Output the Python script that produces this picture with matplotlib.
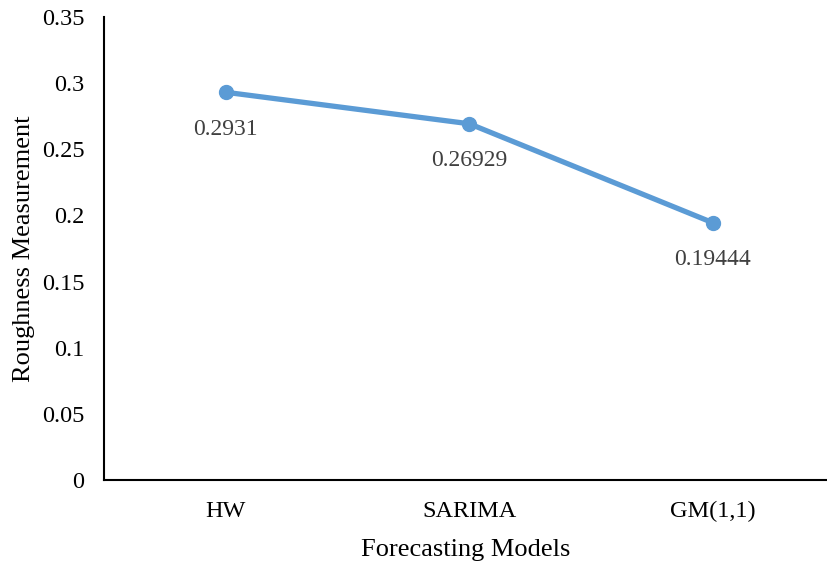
import matplotlib
matplotlib.use("Agg")
import matplotlib.pyplot as plt

models = ["HW", "SARIMA", "GM(1,1)"]
roughness = [0.2931, 0.26929, 0.19444]
labels = ["0.2931", "0.26929", "0.19444"]
yticks = [0, 0.05, 0.1, 0.15, 0.2, 0.25, 0.3, 0.35]
ytick_labels = ["0", "0.05", "0.1", "0.15", "0.2", "0.25", "0.3", "0.35"]

plt.rcParams['font.family'] = ['Liberation Serif', 'DejaVu Serif']

fig = plt.figure(figsize=(8.27, 5.63), dpi=100)
ax = fig.add_axes([104/827, 1-480/563, 1-104/827, (480-17)/563])

x = list(range(len(models)))
ax.plot(x, roughness, color="#5B9BD5", lw=3.8, marker="o", markersize=10,
        solid_capstyle="round", clip_on=False, zorder=3)
for xi, v, lab in zip(x, roughness, labels):
    ax.annotate(lab, (xi, v), xytext=(0, -19), textcoords="offset points",
                ha="center", va="top", fontsize=17, color="#404040")

ax.set_xlim(-0.5, 2 + (827-713)/243.5)
ax.set_ylim(0, 0.35)
ax.set_xticks(x)
ax.set_xticklabels(models, fontsize=17.5)
ax.set_yticks(yticks)
ax.set_yticklabels(ytick_labels, fontsize=17.5)
ax.tick_params(axis="both", length=0)
ax.tick_params(axis="y", pad=14)
ax.tick_params(axis="x", pad=15)
for s in ["top", "right"]:
    ax.spines[s].set_visible(False)
for s in ["left", "bottom"]:
    ax.spines[s].set_linewidth(1.5)
    ax.spines[s].set_color("black")

ax.set_xlabel("Forecasting Models", fontsize=19, labelpad=12)
ax.set_ylabel("Roughness Measurement", fontsize=19, labelpad=5)

fig.savefig("out.png", dpi=100)
